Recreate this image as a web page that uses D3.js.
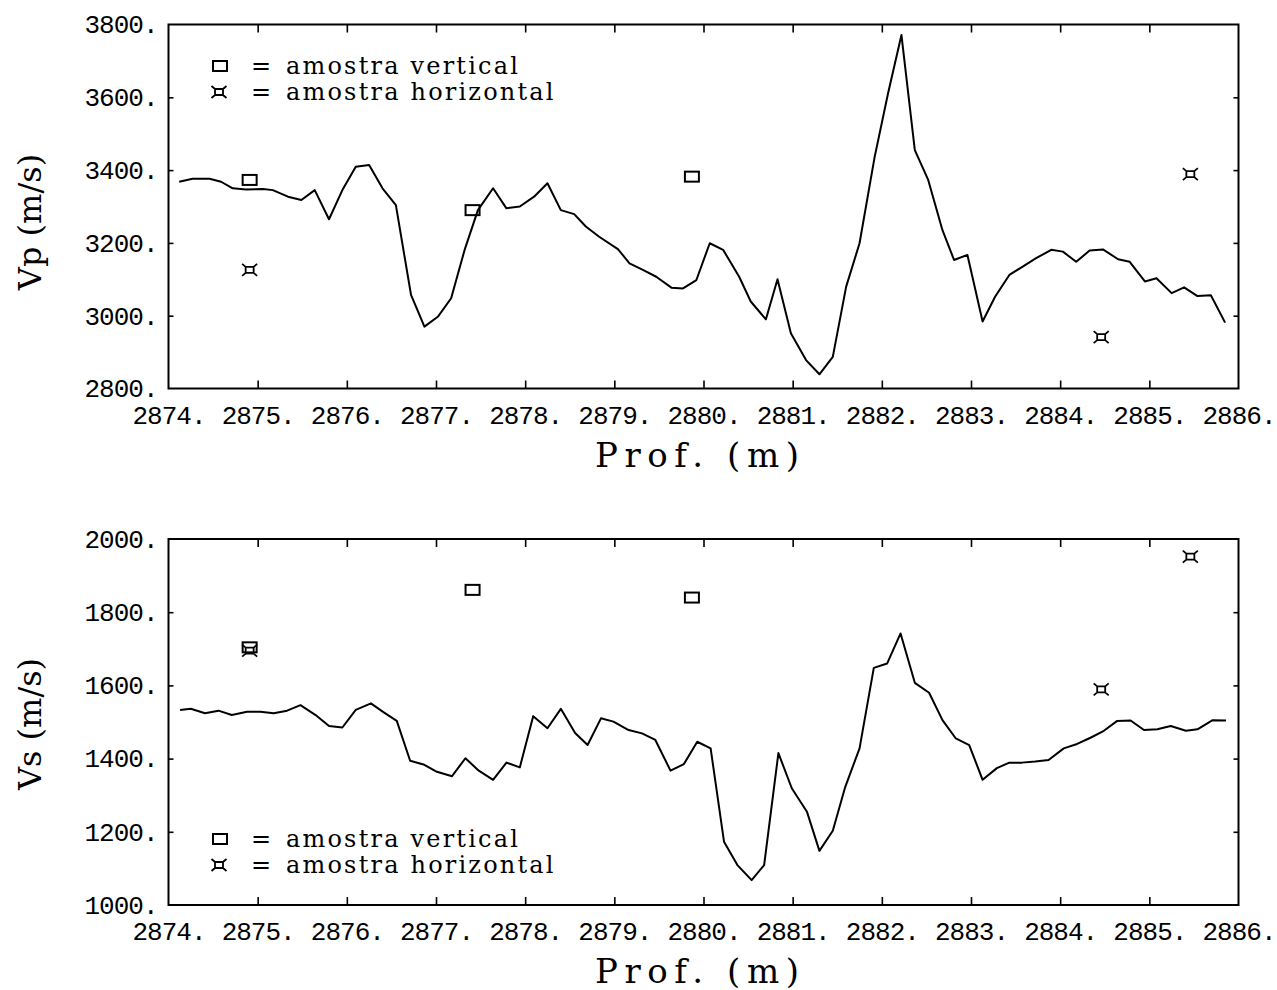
<!DOCTYPE html>
<html>
<head>
<meta charset="utf-8">
<script src="https://cdn.jsdelivr.net/npm/d3@7"></script>
<style>
  html, body { margin: 0; padding: 0; background: #fff; }
  svg { display: block; }
  .tick text { font-family: "Liberation Mono", "DejaVu Sans Mono", monospace; font-size: 26px; letter-spacing: -1px; fill: #000; }
  .tick line { stroke: #000; stroke-width: 1.6px; }
</style>
</head>
<body>
<script>
// ---------- data ----------
const vpDepth = [2874.12,2874.27,2874.46,2874.59,2874.72,2874.87,2875.06,2875.17,2875.34,2875.49,2875.64,2875.80,2875.95,2876.10,2876.25,2876.40,2876.55,2876.72,2876.87,2877.02,2877.17,2877.32,2877.47,2877.64,2877.79,2877.94,2878.10,2878.25,2878.40,2878.55,2878.68,2878.83,2879.04,2879.17,2879.32,2879.47,2879.64,2879.77,2879.92,2880.07,2880.22,2880.40,2880.53,2880.70,2880.83,2880.98,2881.15,2881.30,2881.45,2881.60,2881.75,2881.92,2882.07,2882.22,2882.37,2882.52,2882.68,2882.81,2882.96,2883.13,2883.27,2883.43,2883.58,2883.73,2883.90,2884.03,2884.18,2884.33,2884.48,2884.65,2884.78,2884.95,2885.08,2885.25,2885.39,2885.54,2885.69,2885.85];
const vpValue = [3368,3376,3376,3368,3350,3347,3348,3345,3327,3318,3345,3265,3345,3409,3414,3350,3304,3057,2970,2997,3048,3180,3290,3350,3295,3300,3327,3364,3290,3279,3245,3217,3183,3144,3126,3107,3077,3075,3098,3199,3181,3107,3039,2990,3100,2952,2878,2839,2887,3080,3199,3437,3611,3771,3455,3373,3235,3153,3167,2984,3052,3112,3135,3158,3181,3176,3148,3179,3182,3155,3148,3094,3103,3062,3078,3054,3056,2981];

const vsDepth = [2874.13,2874.25,2874.41,2874.56,2874.71,2874.88,2875.03,2875.18,2875.33,2875.48,2875.65,2875.80,2875.95,2876.10,2876.27,2876.41,2876.56,2876.71,2876.86,2877.01,2877.18,2877.33,2877.48,2877.64,2877.79,2877.94,2878.09,2878.25,2878.40,2878.56,2878.70,2878.85,2878.99,2879.16,2879.31,2879.46,2879.63,2879.78,2879.93,2880.08,2880.23,2880.38,2880.54,2880.68,2880.84,2880.99,2881.16,2881.30,2881.45,2881.59,2881.75,2881.91,2882.06,2882.21,2882.37,2882.53,2882.68,2882.83,2882.98,2883.13,2883.29,2883.43,2883.57,2883.72,2883.87,2884.04,2884.19,2884.34,2884.49,2884.64,2884.79,2884.94,2885.09,2885.24,2885.41,2885.54,2885.71,2885.86];
const vsValue = [1533,1536,1524,1531,1519,1528,1528,1524,1531,1546,1519,1489,1485,1533,1551,1527,1503,1394,1384,1364,1352,1401,1367,1342,1389,1376,1516,1483,1536,1470,1437,1510,1501,1478,1469,1451,1367,1385,1446,1428,1173,1109,1068,1109,1415,1319,1255,1148,1203,1323,1428,1648,1660,1742,1607,1580,1505,1455,1437,1342,1374,1389,1389,1392,1396,1428,1440,1457,1476,1503,1504,1478,1480,1489,1476,1480,1505,1504];

// laboratory samples
const vertDepth = [2874.91, 2877.41, 2879.87];
const vertVp    = [3373, 3290, 3382];
const vertVs    = [1704, 1861, 1840];
const horDepth  = [2874.91, 2884.46, 2885.46];
const horVp     = [3126, 2941, 3389];
const horVs     = [1695, 1589, 1952];

const xTicks  = [2874,2875,2876,2877,2878,2879,2880,2881,2882,2883,2884,2885,2886];
const vpTicks = [2800,3000,3200,3400,3600,3800];
const vsTicks = [1000,1200,1400,1600,1800,2000];

const xLabel = "Prof. (m)";
const legendVert = "amostra vertical";
const legendHor  = "amostra horizontal";

// ---------- drawing ----------
const W = 1277, H = 990;
const svg = d3.select("body").append("svg").attr("width", W).attr("height", H);
svg.append("rect").attr("width", W).attr("height", H).attr("fill", "#fff");

const x0 = 168.5, x1 = 1238.5;

function markerVert(g, cx, cy) {
  g.append("rect").attr("x", cx - 7).attr("y", cy - 5).attr("width", 14).attr("height", 10)
    .attr("fill", "none").attr("stroke", "#000").attr("stroke-width", 2);
}
function markerHor(g, cx, cy) {
  const p = d3.path();
  p.rect(cx - 4, cy - 3, 8, 6);
  [[-1,-1],[1,-1],[1,1],[-1,1]].forEach(([sx, sy]) => {
    p.moveTo(cx + sx * 4, cy + sy * 3);
    p.lineTo(cx + sx * 7.5, cy + sy * 6);
  });
  g.append("path").attr("d", p.toString()).attr("fill", "none")
    .attr("stroke", "#000").attr("stroke-width", 1.8);
}

function panel(opt) {
  const g = svg.append("g");
  const x = d3.scaleLinear().domain([2874, 2886]).range([x0, x1]);
  const y = d3.scaleLinear().domain(opt.yDomain).range([opt.bottom, opt.top]);

  // axes
  const ax = g.append("g").attr("transform", `translate(0,${opt.bottom})`)
    .call(d3.axisBottom(x).tickValues(xTicks).tickSizeInner(-8).tickSizeOuter(0)
      .tickFormat(d => d + "."));
  ax.select(".domain").remove();
  ax.selectAll("text").attr("y", 35).attr("dy", 0);
  ax.selectAll(".tick").filter(d => d === 2874 || d === 2886).select("line").remove();

  const at = g.append("g").attr("transform", `translate(0,${opt.top})`)
    .call(d3.axisTop(x).tickValues(xTicks.slice(1, -1)).tickSizeInner(-8).tickSizeOuter(0).tickFormat(""));
  at.select(".domain").remove();

  const al = g.append("g").attr("transform", `translate(${x0},0)`)
    .call(d3.axisLeft(y).tickValues(opt.yTicks).tickSizeInner(-5).tickSizeOuter(0)
      .tickPadding(11).tickFormat(d => d + "."));
  al.select(".domain").remove();
  al.selectAll(".tick").filter(d => d === opt.yDomain[0] || d === opt.yDomain[1]).select("line").remove();

  const ar = g.append("g").attr("transform", `translate(${x1},0)`)
    .call(d3.axisRight(y).tickValues(opt.yTicks.slice(1, -1)).tickSizeInner(-5).tickSizeOuter(0).tickFormat(""));
  ar.select(".domain").remove();

  // frame
  g.append("rect").attr("x", x0).attr("y", opt.top).attr("width", x1 - x0).attr("height", opt.bottom - opt.top)
    .attr("fill", "none").attr("stroke", "#000").attr("stroke-width", 2);

  // curve
  const pts = opt.depth.map((d, i) => [d, opt.value[i]]);
  g.append("path").datum(pts)
    .attr("d", d3.line().x(d => x(d[0])).y(d => y(d[1])))
    .attr("fill", "none").attr("stroke", "#000").attr("stroke-width", 2)
    .attr("stroke-linejoin", "round");

  // samples
  vertDepth.forEach((d, i) => markerVert(g, x(d), y(opt.vert[i])));
  horDepth.forEach((d, i) => markerHor(g, x(d), y(opt.hor[i])));

  // axis titles
  g.append("text").attr("x", 697).attr("y", opt.bottom + 78)
    .attr("text-anchor", "middle")
    .attr("font-family", "DejaVu Serif, serif").attr("font-size", 34)
    .attr("textLength", 204).attr("lengthAdjust", "spacing")
    .text(xLabel);

  g.append("text")
    .attr("transform", `translate(41,${opt.yLabelCenter}) rotate(-90)`)
    .attr("text-anchor", "middle")
    .attr("font-family", "DejaVu Serif, serif").attr("font-size", 32)
    .text(opt.yLabel);

  // legend
  const lg = g.append("g");
  const ly = opt.legendY;
  markerVert(lg, 220, ly);
  markerHor(lg, 219, ly + 26);
  [[legendVert, ly + 8], [legendHor, ly + 34]].forEach(([t, by]) => {
    const tx = lg.append("text").attr("x", 251).attr("y", by)
      .attr("font-family", "DejaVu Serif, serif").attr("font-size", 24);
    tx.append("tspan").text("=");
    tx.append("tspan").attr("x", 286).attr("letter-spacing", 2.2).text(t);
  });
}

panel({
  top: 24.5, bottom: 388.5, yDomain: [2800, 3800], yTicks: vpTicks,
  depth: vpDepth, value: vpValue, vert: vertVp, hor: horVp,
  yLabel: "Vp (m/s)", yLabelCenter: 222, legendY: 66
});
panel({
  top: 539, bottom: 905, yDomain: [1000, 2000], yTicks: vsTicks,
  depth: vsDepth, value: vsValue, vert: vertVs, hor: horVs,
  yLabel: "Vs (m/s)", yLabelCenter: 724, legendY: 839
});
</script>
</body>
</html>
